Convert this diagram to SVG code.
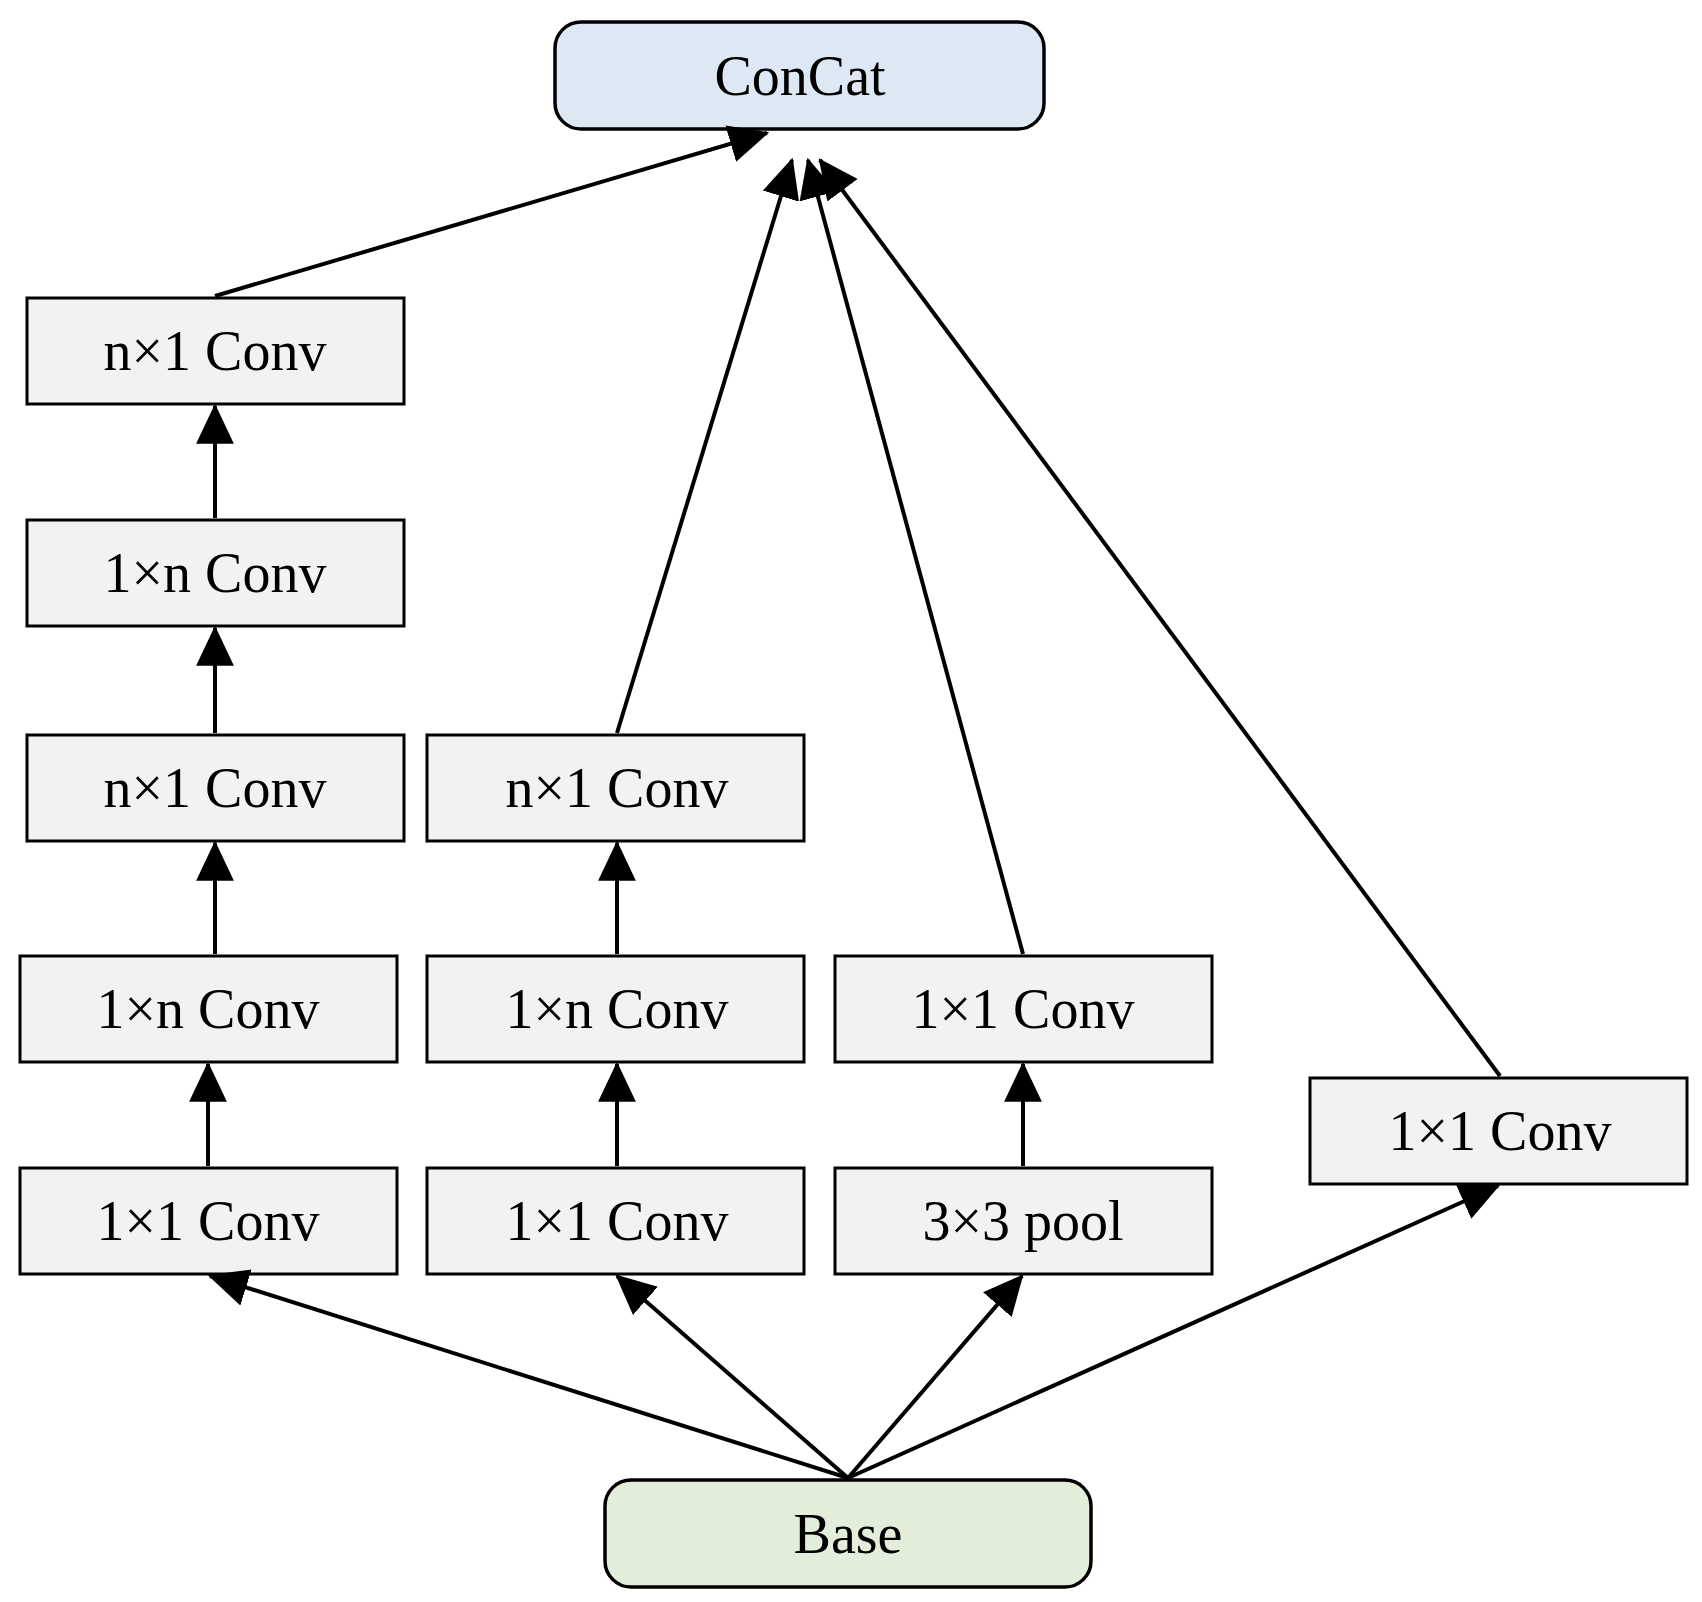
<svg xmlns="http://www.w3.org/2000/svg" width="1702" height="1602" viewBox="0 0 1702 1602">
<style>
.b{fill:#f2f2f2;stroke:#000;stroke-width:3}
t,text{font-family:"Liberation Serif",serif;font-size:56px;text-anchor:middle;dominant-baseline:central;fill:#000}
.e{stroke:#000;stroke-width:4;fill:none;marker-end:url(#a)}
</style>
<defs><marker id="a" markerUnits="userSpaceOnUse" markerWidth="40" markerHeight="40" viewBox="0 0 36 36" refX="34" refY="18" orient="auto"><path d="M0,1 L36,18 L0,35 z" fill="#000"/></marker></defs>
<rect width="1702" height="1602" fill="#fff"/>
<g id="concat"><rect x="555" y="22" width="489" height="107" rx="26" fill="#dde8f4" stroke="#000" stroke-width="3.5"/><text x="800" y="76">ConCat</text></g>
<g id="base"><rect x="605" y="1480" width="486" height="107" rx="26" fill="#e2eed9" stroke="#000" stroke-width="3.5"/><text x="848" y="1534">Base</text></g>
<g id="c1a"><rect class="b" x="27" y="298" width="377" height="106"/><text x="215" y="351">n×1 Conv</text></g>
<g id="c1b"><rect class="b" x="27" y="520" width="377" height="106"/><text x="215" y="573">1×n Conv</text></g>
<g id="c1c"><rect class="b" x="27" y="735" width="377" height="106"/><text x="215" y="788">n×1 Conv</text></g>
<g id="c1d"><rect class="b" x="20" y="956" width="377" height="106"/><text x="208" y="1009">1×n Conv</text></g>
<g id="c1e"><rect class="b" x="20" y="1168" width="377" height="106"/><text x="208" y="1221">1×1 Conv</text></g>
<g id="c2a"><rect class="b" x="427" y="735" width="377" height="106"/><text x="617" y="788">n×1 Conv</text></g>
<g id="c2b"><rect class="b" x="427" y="956" width="377" height="106"/><text x="617" y="1009">1×n Conv</text></g>
<g id="c2c"><rect class="b" x="427" y="1168" width="377" height="106"/><text x="617" y="1221">1×1 Conv</text></g>
<g id="c3a"><rect class="b" x="835" y="956" width="377" height="106"/><text x="1023" y="1009">1×1 Conv</text></g>
<g id="c3b"><rect class="b" x="835" y="1168" width="377" height="106"/><text x="1023" y="1221">3×3 pool</text></g>
<g id="c4"><rect class="b" x="1310" y="1078" width="377" height="106"/><text x="1500" y="1131">1×1 Conv</text></g>
<g id="edges">
<line class="e" x1="215" y1="296" x2="767" y2="133"/>
<line class="e" x1="617" y1="733" x2="792" y2="160"/>
<line class="e" x1="1023" y1="954" x2="808" y2="160"/>
<line class="e" x1="1500" y1="1076" x2="820" y2="160"/>
<line class="e" x1="215" y1="518" x2="215" y2="406"/>
<line class="e" x1="215" y1="733" x2="215" y2="628"/>
<line class="e" x1="215" y1="954" x2="215" y2="843"/>
<line class="e" x1="208" y1="1166" x2="208" y2="1064"/>
<line class="e" x1="617" y1="954" x2="617" y2="843"/>
<line class="e" x1="617" y1="1166" x2="617" y2="1064"/>
<line class="e" x1="1023" y1="1166" x2="1023" y2="1064"/>
<line class="e" x1="848" y1="1478" x2="210" y2="1276"/>
<line class="e" x1="848" y1="1478" x2="617" y2="1276"/>
<line class="e" x1="848" y1="1478" x2="1022" y2="1276"/>
<line class="e" x1="848" y1="1478" x2="1498" y2="1186"/>
</g>
</svg>
